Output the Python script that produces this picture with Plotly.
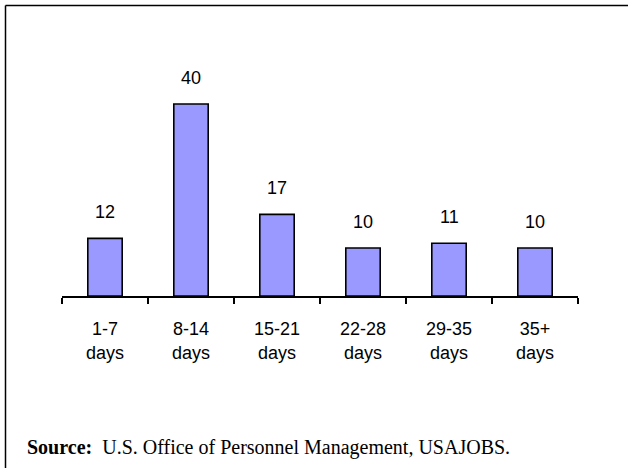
import plotly.graph_objects as go

categories = ["1-7<br>days", "8-14<br>days", "15-21<br>days", "22-28<br>days", "29-35<br>days", "35+<br>days"]
values = [12, 40, 17, 10, 11, 10]
value_labels = ["12", "40", "17", "10", "11", "10"]
source_label = "<b>Source:</b>  U.S. Office of Personnel Management, USAJOBS."

W, H = 630, 468
L, R, T, B = 62, 52, 40, 172

fig = go.Figure()
fig.add_trace(go.Bar(
    x=categories, y=values,
    marker=dict(color="#9999FF", line=dict(color="black", width=1.6)),
    width=0.4,
    hoverinfo="skip",
))

for c, v, t in zip(categories, values, value_labels):
    fig.add_annotation(x=c, y=v, text=t, showarrow=False, yanchor="bottom",
                       yshift=14, font=dict(family="Liberation Sans, Arial", size=18, color="black"))

pw = W - L - R
ph = H - T - B
def px_to_paper_x(px):
    return (px - L) / pw
def px_to_paper_y(py):
    return (H - B - py) / ph

# frame: top and left lines
fig.add_shape(type="line", xref="paper", yref="paper",
              x0=px_to_paper_x(5.5), x1=px_to_paper_x(628),
              y0=px_to_paper_y(5.5), y1=px_to_paper_y(5.5),
              line=dict(color="black", width=1.5))
fig.add_shape(type="line", xref="paper", yref="paper",
              x0=px_to_paper_x(5.5), x1=px_to_paper_x(5.5),
              y0=px_to_paper_y(5.5), y1=px_to_paper_y(470),
              line=dict(color="black", width=1.5))

fig.add_annotation(xref="paper", yref="paper", x=px_to_paper_x(25), y=px_to_paper_y(447),
                   xanchor="left", yanchor="middle", showarrow=False, text=source_label,
                   font=dict(family="Liberation Serif, Times New Roman, serif", size=20, color="black"))

fig.update_layout(
    width=W, height=H,
    margin=dict(l=L, r=R, t=T, b=B, pad=0),
    paper_bgcolor="white", plot_bgcolor="white",
    showlegend=False,
    xaxis=dict(showline=True, linecolor="black", linewidth=1.5,
               ticks="outside", ticklen=6, tickwidth=1.5, tickcolor="black",
               tickson="boundaries", showgrid=False, fixedrange=True,
               tickfont=dict(family="Liberation Sans, Arial", size=18, color="black"),
               ticklabelstandoff=16),
    yaxis=dict(range=[0, ph / 4.8], visible=False, showgrid=False, zeroline=False, fixedrange=True),
)

fig.write_html("out.html", config={"displayModeBar": False},
               post_script=("document.body.style.margin='0px';document.body.style.padding='0px';"
                            "document.body.style.overflow='hidden';"
                            "document.documentElement.style.overflow='hidden';"))
